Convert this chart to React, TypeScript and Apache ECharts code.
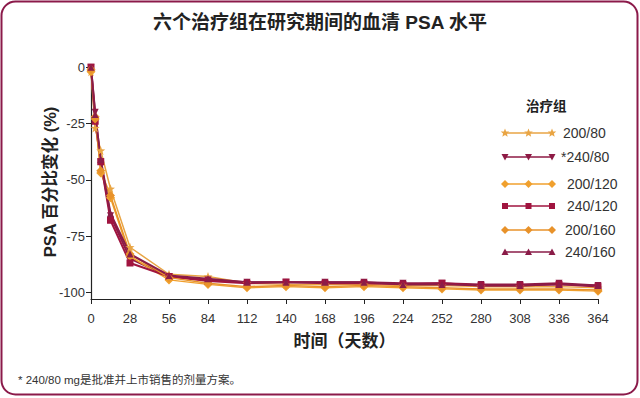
import React, { useEffect, useRef } from "react";
import * as echarts from "echarts";

const days = [0, 3, 7, 14, 28, 56, 84, 112, 140, 168, 196, 224, 252, 280, 308, 336, 364];
const yTicks = [0, -25, -50, -75, -100];

const s200_80 = [-2, -27, -37, -54, -80, -92, -93, -96, -96.5, -96.5, -96.5, -97, -97, -97.5, -97.5, -97.5, -98];
const s240_80 = [0, -20, -42, -66, -85, -93, -94.5, -95.5, -95.5, -95.5, -95.5, -96, -96, -96.5, -96.5, -96, -97];
const s200_120 = [-2, -22, -47, -58, -84, -94.5, -96.5, -98, -97.5, -98, -97.5, -98, -98.5, -99, -99, -99, -99.5];
const s240_120 = [0, -24, -42, -68, -87, -93, -95, -96, -95.5, -96, -96, -96.5, -96, -97, -97, -96.5, -97.5];
const s200_160 = [-1, -23, -46, -57, -83, -93.5, -96, -97.5, -97, -97.5, -97, -97.5, -98, -98.5, -98.5, -98.5, -99];
const s240_160 = [0, -21, -41, -65, -83, -92.5, -94, -95.5, -95.5, -95.5, -95.5, -96.5, -96.5, -97, -97, -96.5, -97];

const seriesNames = ["200/80", "*240/80", "200/120", "240/120", "200/160", "240/160"];
const seriesValues = [s200_80, s240_80, s200_120, s240_120, s200_160, s240_160];
const seriesColors = ["#E9A544", "#8E1A45", "#F0A02E", "#A0143F", "#E8922A", "#8A1C48"];
const seriesSymbols = ["star", "inv", "diamond", "rect", "diamond", "triangle"];

const legendRowY = [133, 157, 184, 206, 230, 252];
const legendTextX = [563, 561, 567, 567, 565, 565];

function starPoints(cx: number, cy: number, R: number, r: number) {
  const pts: number[][] = [];
  for (let i = 0; i < 10; i++) {
    const a = -Math.PI / 2 + (i * Math.PI) / 5;
    const rad = i % 2 === 0 ? R : r;
    pts.push([cx + rad * Math.cos(a), cy + rad * Math.sin(a)]);
  }
  return pts;
}

function markerGraphic(kind: string, cx: number, cy: number, color: string): any {
  if (kind === "star") {
    return { type: "polygon", shape: { points: starPoints(cx, cy, 4.5, 2) }, style: { fill: color } };
  }
  if (kind === "inv") {
    return { type: "polygon", shape: { points: [[cx - 3.5, cy - 3], [cx + 3.5, cy - 3], [cx, cy + 3.5]] }, style: { fill: color } };
  }
  if (kind === "triangle") {
    return { type: "polygon", shape: { points: [[cx - 3.5, cy + 3], [cx + 3.5, cy + 3], [cx, cy - 3.5]] }, style: { fill: color } };
  }
  if (kind === "diamond") {
    return { type: "polygon", shape: { points: [[cx, cy - 4], [cx + 4, cy], [cx, cy + 4], [cx - 4, cy]] }, style: { fill: color } };
  }
  return { type: "rect", shape: { x: cx - 3, y: cy - 3, width: 6, height: 6 }, style: { fill: color } };
}

const echartSymbol: Record<string, string> = {
  star: "path://M0,-10 L2.35,-3.24 L9.51,-3.09 L3.8,1.24 L5.88,8.09 L0,4 L-5.88,8.09 L-3.8,1.24 L-9.51,-3.09 L-2.35,-3.24 Z",
  inv: "path://M-8,-7 L8,-7 L0,8 Z",
  triangle: "triangle",
  diamond: "diamond",
  rect: "rect",
};
const symbolSizes: Record<string, number> = { star: 9, inv: 7, triangle: 7, diamond: 9, rect: 7 };

export default function App() {
  const ref = useRef<HTMLDivElement>(null);
  useEffect(() => {
    if (!ref.current) return;
    const chart = echarts.init(ref.current, null, { renderer: "svg" });
    const font = "Liberation Sans, Arial, Noto Sans CJK SC, sans-serif";

    const legendGraphics: any[] = [
      {
        type: "text",
        left: 526,
        top: 100,
        style: { text: "治疗组", font: "bold 13.5px " + font, fill: "#222" },
      },
    ];
    seriesNames.forEach((name, i) => {
      const y = legendRowY[i];
      const c = seriesColors[i];
      legendGraphics.push({
        type: "line",
        shape: { x1: 505, y1: y, x2: 552, y2: y },
        style: { stroke: c, lineWidth: 1.5 },
      });
      [505, 528.5, 552].forEach((x) => legendGraphics.push(markerGraphic(seriesSymbols[i], x, y, c)));
      legendGraphics.push({
        type: "text",
        x: legendTextX[i],
        y: y,
        style: { text: name, font: "14px " + font, fill: "#333", textVerticalAlign: "middle", verticalAlign: "middle" },
      });
    });

    chart.setOption({
      animation: false,
      backgroundColor: "#ffffff",
      title: {
        text: "六个治疗组在研究期间的血清 PSA 水平",
        left: "center",
        top: 8,
        textStyle: { fontSize: 19, fontWeight: "bold", color: "#222", fontFamily: font },
      },
      grid: { left: 91, right: 42, top: 65, bottom: 99 },
      xAxis: {
        type: "value",
        min: 0,
        max: 364,
        interval: 28,
        name: "时间（天数）",
        nameLocation: "middle",
        nameGap: 34,
        nameMoveOverlap: false,
        nameTextStyle: { fontSize: 17, fontWeight: "bold", color: "#222", fontFamily: font },
        axisLine: { onZero: false, lineStyle: { color: "#222", width: 1.2 } },
        axisTick: { show: true, length: 5, lineStyle: { color: "#222" } },
        axisLabel: { fontSize: 13, color: "#333", margin: 13, fontFamily: font },
        splitLine: { show: false },
      },
      yAxis: {
        type: "value",
        min: -103,
        max: 1,
        name: "PSA 百分比变化 (%)",
        nameLocation: "middle",
        nameGap: 33,
        nameMoveOverlap: false,
        nameTextStyle: { fontSize: 16.5, fontWeight: "bold", color: "#222", fontFamily: font },
        axisLine: { show: true, onZero: false, lineStyle: { color: "#222", width: 1.2 } },
        axisTick: { show: true, length: 5, customValues: yTicks, lineStyle: { color: "#222" } },
        axisLabel: { fontSize: 13, color: "#333", margin: 6, customValues: yTicks, fontFamily: font },
        splitLine: { show: false },
      },
      series: seriesNames.map((name, i) => ({
        name,
        type: "line",
        data: days.map((d, j) => [d, seriesValues[i][j]]),
        symbol: echartSymbol[seriesSymbols[i]],
        symbolSize: symbolSizes[seriesSymbols[i]],
        showSymbol: true,
        color: seriesColors[i],
        lineStyle: { color: seriesColors[i], width: i % 2 === 1 ? 2 : 1.5 },
        itemStyle: { color: seriesColors[i] },
      })),
      graphic: [
        {
          type: "rect",
          shape: { x: 1.5, y: 1.5, width: 636, height: 393, r: 14 },
          style: { fill: "none", stroke: "#8B1A4A", lineWidth: 2 },
          silent: true,
        },
        {
          type: "text",
          left: 18,
          top: 374,
          style: { text: "* 240/80 mg是批准并上市销售的剂量方案。", font: "11.5px " + font, fill: "#333" },
        },
        ...legendGraphics,
      ],
    });
    return () => chart.dispose();
  }, []);
  return (
    <div
      ref={ref}
      style={{ position: "fixed", left: 0, top: 0, width: 640, height: 398, background: "#fff" }}
    />
  );
}
